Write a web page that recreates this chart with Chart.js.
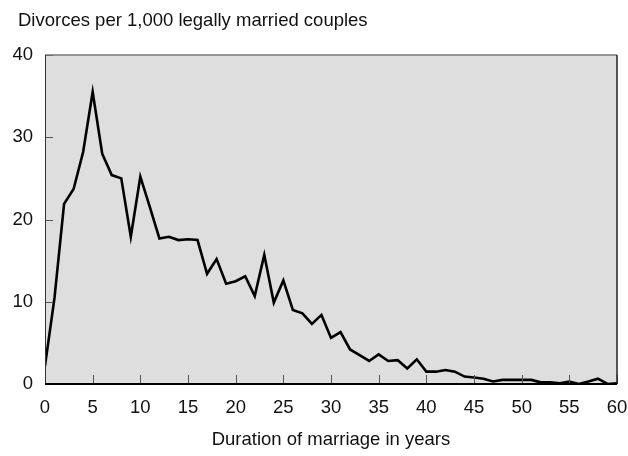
<!DOCTYPE html>
<html>
<head>
<meta charset="utf-8">
<script src="https://cdn.jsdelivr.net/npm/chart.js@4"></script>
<style>
  html, body { margin: 0; padding: 0; background: #ffffff; }
  #wrap { width: 628px; height: 456px; }
</style>
</head>
<body>
<div id="wrap"><canvas id="divorceChart" width="628" height="456"></canvas></div>
<script>
const years = [];
for (let i = 0; i <= 60; i++) years.push(i);

// divorces per 1,000 couples, by duration of marriage (years 0..60)
const divorceRate = [
    2.2, 10.5, 21.9, 23.7, 28.2, 35.5, 28.0, 25.4, 25.0, 17.9,
    25.2, 21.5, 17.7, 17.9, 17.5, 17.6, 17.5, 13.4, 15.2, 12.2,
    12.5, 13.1, 10.7, 15.7, 9.9, 12.6, 9.0, 8.6, 7.3, 8.4,
    5.6, 6.3, 4.2, 3.5, 2.8, 3.6, 2.8, 2.9, 1.9, 3.0,
    1.5, 1.5, 1.7, 1.5, 0.9, 0.8, 0.65, 0.3, 0.5, 0.5,
    0.5, 0.5, 0.2, 0.2, 0.1, 0.3, 0.0, 0.3, 0.65, 0.0,
    0.1
];

const xTicks = [0, 5, 10, 15, 20, 25, 30, 35, 40, 45, 50, 55, 60];
const yTicks = [0, 10, 20, 30, 40];

const yTitle = 'Divorces per 1,000 legally married couples';
const xTitle = 'Duration of marriage in years';

const FONT = '"Liberation Sans", Arial, sans-serif';
const FONT_SIZE = 18.5;

// grey plot background, box and inward tick marks
const frame = {
    id: 'frame',
    beforeDatasetsDraw(chart) {
        const { ctx, chartArea: a } = chart;
        ctx.save();
        ctx.fillStyle = '#dedede';
        ctx.fillRect(a.left, a.top, a.right - a.left, a.bottom - a.top);
        ctx.restore();
    },
    afterDatasetsDraw(chart) {
        const { ctx, chartArea: a, scales } = chart;
        ctx.save();
        // tick marks point into the plot
        ctx.strokeStyle = '#555555';
        ctx.lineWidth = 1;
        xTicks.forEach(v => {
            const px = Math.round(scales.x.getPixelForValue(v)) + 0.5;
            ctx.beginPath();
            ctx.moveTo(px, a.bottom);
            ctx.lineTo(px, a.bottom - 9);
            ctx.stroke();
        });
        yTicks.forEach(v => {
            const py = Math.round(scales.y.getPixelForValue(v)) + 0.5;
            ctx.beginPath();
            ctx.moveTo(a.left, py);
            ctx.lineTo(a.left + 8, py);
            ctx.stroke();
        });
        // top edge
        ctx.strokeStyle = '#777777';
        ctx.lineWidth = 1.5;
        ctx.beginPath();
        ctx.moveTo(a.left, a.top);
        ctx.lineTo(a.right, a.top);
        ctx.stroke();
        // right edge
        ctx.strokeStyle = '#222222';
        ctx.lineWidth = 1.5;
        ctx.beginPath();
        ctx.moveTo(a.right, a.top);
        ctx.lineTo(a.right, a.bottom);
        ctx.stroke();
        // left edge
        ctx.strokeStyle = '#333333';
        ctx.lineWidth = 1;
        ctx.beginPath();
        ctx.moveTo(a.left + 0.5, a.top);
        ctx.lineTo(a.left + 0.5, a.bottom);
        ctx.stroke();
        // x axis
        ctx.strokeStyle = '#000000';
        ctx.lineWidth = 2;
        ctx.beginPath();
        ctx.moveTo(a.left, a.bottom);
        ctx.lineTo(a.right, a.bottom);
        ctx.stroke();
        ctx.restore();
    },
    afterDraw(chart) {
        const { ctx, chartArea: a } = chart;
        ctx.save();
        ctx.fillStyle = '#111111';
        ctx.font = FONT_SIZE + 'px ' + FONT;
        ctx.textBaseline = 'middle';
        ctx.textAlign = 'left';
        ctx.fillText(yTitle, 18, 21);
        ctx.textAlign = 'center';
        ctx.fillText(xTitle, (a.left + a.right) / 2, 440);
        ctx.restore();
    }
};

const divorceChart = {
    type: 'line',
    data: {
        datasets: [{
            label: 'Divorce rate',
            data: years.map((yr, i) => ({ x: yr, y: divorceRate[i] })),
            borderColor: '#000000',
            borderWidth: 2.6,
            pointRadius: 0,
            tension: 0,
            fill: false
        }]
    },
    options: {
        responsive: false,
        animation: false,
        layout: {
            padding: { top: 55, right: 11, left: 0, bottom: 0 }
        },
        plugins: {
            legend: { display: false },
            title: { display: false },
            tooltip: { enabled: false }
        },
        scales: {
            x: {
                type: 'linear',
                min: 0,
                max: 60,
                border: { display: false },
                grid: { display: false, drawTicks: false },
                afterFit(scale) {
                    scale.height = 72;
                    scale.paddingLeft = 0;
                    scale.paddingRight = 0;
                },
                afterBuildTicks(scale) { scale.ticks = xTicks.map(v => ({ value: v })); },
                ticks: {
                    padding: 13,
                    color: '#111111',
                    maxRotation: 0,
                    font: { family: FONT, size: FONT_SIZE }
                }
            },
            y: {
                min: 0,
                max: 40,
                border: { display: false },
                grid: { display: false, drawTicks: false },
                afterFit(scale) {
                    scale.width = 45;
                    scale.paddingTop = 0;
                    scale.paddingBottom = 0;
                },
                afterBuildTicks(scale) { scale.ticks = yTicks.map(v => ({ value: v })); },
                ticks: {
                    padding: 12,
                    color: '#111111',
                    font: { family: FONT, size: FONT_SIZE }
                }
            }
        }
    },
    plugins: [frame]
};

const chart1 = new Chart(document.getElementById('divorceChart'), divorceChart);
</script>
</body>
</html>
